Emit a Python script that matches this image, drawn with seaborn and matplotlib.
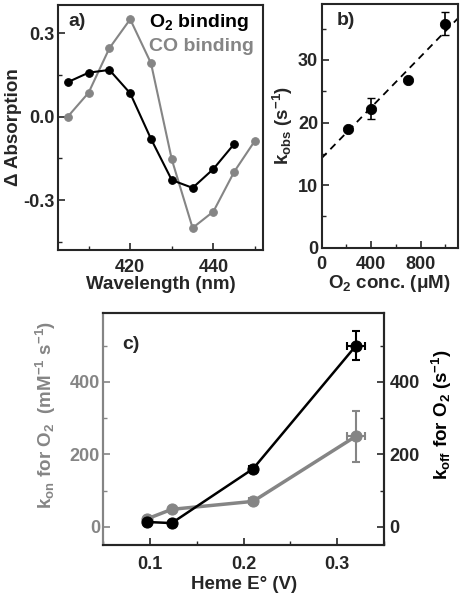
import matplotlib
matplotlib.use("Agg")
import matplotlib.pyplot as plt
import numpy as np
import pandas as pd
import seaborn as sns
from matplotlib.ticker import MultipleLocator, FormatStrFormatter

# panel a: difference spectra
wl_o2 = [405, 410, 415, 420, 425, 430, 435, 440, 445]
abs_o2 = [0.124, 0.158, 0.168, 0.084, -0.080, -0.228, -0.256, -0.188, -0.098]
wl_co = [405, 410, 415, 420, 425, 430, 435, 440, 445, 450]
abs_co = [0.0, 0.086, 0.246, 0.350, 0.192, -0.154, -0.400, -0.341, -0.198, -0.086]

# panel b: observed rate vs O2 concentration
o2_conc = [210, 400, 700, 1000]
k_obs = [19.0, 22.2, 26.8, 35.8]
k_obs_err = [0.0, 1.7, 0.0, 1.8]
fit_slope = 0.0203
fit_intercept = 14.3

# panel c: rates vs heme potential
heme_e = [0.097, 0.123, 0.21, 0.32]
k_on = [22, 48, 70, 250]
k_on_err = [0, 0, 0, 70]
k_off = [13, 10, 160, 500]
k_off_err = [0, 0, 8, 40]
heme_e_err = [0, 0, 0.004, 0.01]

GRAY = "#858585"

sns.set_style("ticks")
plt.rcParams["font.family"] = ["Liberation Sans", "DejaVu Sans"]
plt.rcParams["font.weight"] = "bold"
plt.rcParams["axes.labelweight"] = "bold"
plt.rcParams["mathtext.fontset"] = "custom"
plt.rcParams["mathtext.rm"] = "Liberation Sans:bold"
plt.rcParams["mathtext.it"] = "Liberation Sans:bold"
plt.rcParams["mathtext.bf"] = "Liberation Sans:bold"
plt.rcParams["mathtext.default"] = "rm"
plt.rcParams["xtick.direction"] = "in"
plt.rcParams["ytick.direction"] = "in"
plt.rcParams["axes.linewidth"] = 1.5
plt.rcParams["xtick.major.width"] = 1.2
plt.rcParams["ytick.major.width"] = 1.2
plt.rcParams["xtick.minor.width"] = 1.0
plt.rcParams["ytick.minor.width"] = 1.0
plt.rcParams["xtick.major.size"] = 5
plt.rcParams["ytick.major.size"] = 5
plt.rcParams["xtick.minor.size"] = 3
plt.rcParams["ytick.minor.size"] = 3
plt.rcParams["xtick.major.pad"] = 6
plt.rcParams["ytick.major.pad"] = 2.5

fs_tick = 13
fs_label = 13.5
fs_tag = 14

fig = plt.figure(figsize=(4.62, 6.0), dpi=100)
ax_a = fig.add_axes([0.126, 0.583, 0.444, 0.409])
ax_b = fig.add_axes([0.696, 0.587, 0.295, 0.407])
ax_c = fig.add_axes([0.224, 0.092, 0.607, 0.386])

# ---- panel a
df_o2 = pd.DataFrame({"wl": wl_o2, "abs": abs_o2})
df_co = pd.DataFrame({"wl": wl_co, "abs": abs_co})
sns.lineplot(data=df_co, x="wl", y="abs", ax=ax_a, color=GRAY, lw=1.5,
             marker="o", markersize=5.5, markeredgecolor=GRAY)
sns.lineplot(data=df_o2, x="wl", y="abs", ax=ax_a, color="black", lw=1.5,
             marker="o", markersize=5.5, markeredgecolor="black")
ax_a.set_xlim(402.7, 452)
ax_a.set_ylim(-0.48, 0.402)
ax_a.xaxis.set_major_locator(MultipleLocator(20))
ax_a.xaxis.set_minor_locator(MultipleLocator(10))
ax_a.yaxis.set_major_locator(MultipleLocator(0.3))
ax_a.yaxis.set_minor_locator(MultipleLocator(0.15))
ax_a.yaxis.set_major_formatter(FormatStrFormatter("%.1f"))
ax_a.set_xlabel("Wavelength (nm)", fontsize=fs_label, labelpad=0)
ax_a.set_ylabel("Δ Absorption", fontsize=fs_label, labelpad=1)
ax_a.text(0.05, 0.965, "a)", transform=ax_a.transAxes, fontsize=fs_tag, fontweight="bold", va="top")
ax_a.text(0.445, 0.97, r"O$_2$ binding", transform=ax_a.transAxes, fontsize=fs_tag,
          fontweight="bold", va="top", color="black")
ax_a.text(0.445, 0.865, "CO binding", transform=ax_a.transAxes, fontsize=fs_tag,
          fontweight="bold", va="top", color=GRAY)

# ---- panel b
xs = np.array([0, 1100])
ax_b.plot(xs, fit_intercept + fit_slope * xs, color="black", lw=1.3, dashes=(4, 3))
ax_b.errorbar(o2_conc, k_obs, yerr=k_obs_err, fmt="none", ecolor="black", elinewidth=1.2, capsize=3)
sns.scatterplot(x=o2_conc, y=k_obs, ax=ax_b, color="black", s=55, edgecolor="black", zorder=3)
ax_b.set_xlim(0, 1100)
ax_b.set_ylim(0, 39)
ax_b.xaxis.set_major_locator(MultipleLocator(400))
ax_b.xaxis.set_minor_locator(MultipleLocator(200))
ax_b.yaxis.set_major_locator(MultipleLocator(10))
ax_b.yaxis.set_minor_locator(MultipleLocator(5))
ax_b.set_xlabel(r"O$_2$ conc. (μM)", fontsize=fs_label, labelpad=0)
ax_b.set_ylabel(r"k$_{obs}$ (s$^{-1}$)", fontsize=fs_label, labelpad=2)
ax_b.text(0.11, 0.965, "b)", transform=ax_b.transAxes, fontsize=fs_tag, fontweight="bold", va="top")

# ---- panel c
ax_c2 = ax_c.twinx()
ax_c.errorbar(heme_e, k_on, yerr=k_on_err, xerr=heme_e_err, fmt="none", ecolor=GRAY,
              elinewidth=1.5, capsize=3, capthick=1.5)
sns.lineplot(x=heme_e, y=k_on, ax=ax_c, color=GRAY, lw=2.5, marker="o", markersize=8,
             markeredgecolor=GRAY)
ax_c2.errorbar(heme_e, k_off, yerr=k_off_err, xerr=heme_e_err, fmt="none", ecolor="black",
               elinewidth=1.5, capsize=3, capthick=1.5)
sns.lineplot(x=heme_e, y=k_off, ax=ax_c2, color="black", lw=1.8, marker="o", markersize=8,
             markeredgecolor="black")
for ax in (ax_c, ax_c2):
    ax.set_ylim(-50, 590)
    ax.yaxis.set_major_locator(MultipleLocator(200))
    ax.yaxis.set_minor_locator(MultipleLocator(100))
ax_c.set_xlim(0.05, 0.35)
ax_c.xaxis.set_major_locator(MultipleLocator(0.1))
ax_c.xaxis.set_minor_locator(MultipleLocator(0.05))
ax_c.xaxis.set_major_formatter(FormatStrFormatter("%.1f"))
ax_c.tick_params(axis="x", which="major", pad=8)
ax_c.tick_params(axis="y", which="both", color=GRAY, labelcolor=GRAY)
ax_c2.tick_params(axis="y", which="both", right=True, direction="in", pad=4)
ax_c.set_xlabel("Heme E° (V)", fontsize=fs_label, labelpad=2)
ax_c.set_ylabel(r"k$_{on}$ for O$_2$  (mM$^{-1}$ s$^{-1}$)", fontsize=fs_label, color=GRAY)
ax_c.yaxis.set_label_coords(-0.162, 0.56)
ax_c2.set_ylabel(r"k$_{off}$ for O$_2$ (s$^{-1}$)", fontsize=fs_label, color="black")
ax_c2.yaxis.set_label_coords(1.165, 0.56)
ax_c.text(0.067, 0.9, "c)", transform=ax_c.transAxes, fontsize=fs_tag, fontweight="bold", va="top")

for ax in (ax_a, ax_b, ax_c, ax_c2):
    ax.tick_params(which="both", labelsize=fs_tick)
    for lbl in ax.get_xticklabels() + ax.get_yticklabels():
        lbl.set_fontweight("bold")
    for sp in ax.spines.values():
        sp.set_visible(True)
        sp.set_linewidth(1.5)
    if ax.get_legend() is not None:
        ax.get_legend().remove()
ax_c.spines["left"].set_color(GRAY)
ax_c2.spines["left"].set_color(GRAY)

fig.savefig("out.png", dpi=100)
